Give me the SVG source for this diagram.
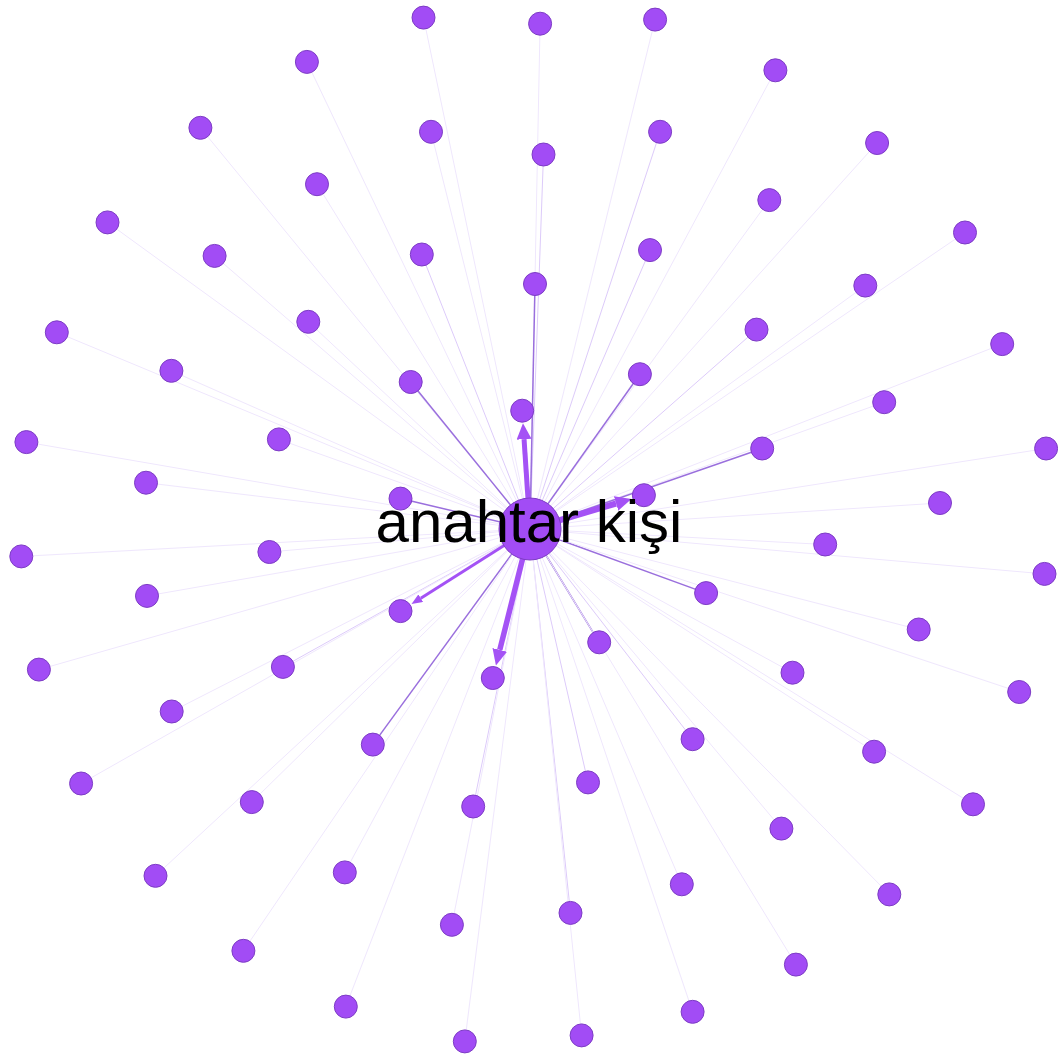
<svg xmlns="http://www.w3.org/2000/svg" width="1058" height="1059" viewBox="0 0 1058 1059">
<style>
.f{stroke:#efe7fd;stroke-width:1;fill:none}
.l{stroke:#ddcbfa;stroke-width:1;fill:none}
.m{stroke:#9a6fdd;stroke-width:1.5;fill:none}
.a{stroke:#a452f5;fill:none;stroke-linecap:butt}
.n{fill:#a24cf5;stroke:#7d3dc4;stroke-width:1}
.t{font-family:"Liberation Sans",Arial,sans-serif;font-size:60px;fill:#000}
</style>
<defs>
<marker id="ah" markerUnits="userSpaceOnUse" markerWidth="16" markerHeight="15" refX="0" refY="7.5" orient="auto"><path d="M0,0 L16,7.5 L0,15 z" fill="#a452f5"/></marker>
<marker id="as" markerUnits="userSpaceOnUse" markerWidth="11" markerHeight="9" refX="0" refY="4.5" orient="auto"><path d="M0,0 L11,4.5 L0,9 z" fill="#a452f5"/></marker>
</defs>
<rect width="1058" height="1059" fill="#fff"/>
<g id="connectors">
<line class="f" x1="530" y1="529" x2="423.5" y2="17.6"/>
<line class="f" x1="530" y1="529" x2="306.9" y2="61.9"/>
<line class="f" x1="530" y1="529" x2="431" y2="131.8"/>
<line class="f" x1="530" y1="529" x2="200.4" y2="127.8"/>
<line class="f" x1="530" y1="529" x2="317" y2="184.2"/>
<line class="f" x1="530" y1="529" x2="107.5" y2="222.4"/>
<line class="f" x1="530" y1="529" x2="214.6" y2="255.9"/>
<line class="l" x1="530" y1="529" x2="421.8" y2="254.5"/>
<line class="f" x1="530" y1="529" x2="308.3" y2="321.8"/>
<line class="f" x1="530" y1="529" x2="56.8" y2="332.3"/>
<line class="f" x1="530" y1="529" x2="171.4" y2="370.8"/>
<line class="m" x1="530" y1="529" x2="410.7" y2="382"/>
<line class="f" x1="530" y1="529" x2="26.4" y2="442.1"/>
<line class="f" x1="530" y1="529" x2="278.9" y2="439.4"/>
<line class="f" x1="530" y1="529" x2="146" y2="482.7"/>
<line class="m" x1="530" y1="529" x2="400.5" y2="498.6"/>
<line class="f" x1="530" y1="529" x2="540.1" y2="23.7"/>
<line class="f" x1="530" y1="529" x2="655.1" y2="19.6"/>
<line class="f" x1="530" y1="529" x2="775.4" y2="70.3"/>
<line class="l" x1="530" y1="529" x2="660.1" y2="131.8"/>
<line class="l" x1="530" y1="529" x2="543.5" y2="154.5"/>
<line class="f" x1="530" y1="529" x2="877.1" y2="143"/>
<line class="f" x1="530" y1="529" x2="769.3" y2="200.1"/>
<line class="l" x1="530" y1="529" x2="650" y2="250.1"/>
<line class="f" x1="530" y1="529" x2="965" y2="232.5"/>
<line class="f" x1="530" y1="529" x2="865.3" y2="285.6"/>
<line class="m" x1="530" y1="529" x2="535" y2="284"/>
<line class="l" x1="530" y1="529" x2="756.5" y2="329.6"/>
<line class="f" x1="530" y1="529" x2="1002.2" y2="344.1"/>
<line class="m" x1="530" y1="529" x2="639.9" y2="374.2"/>
<line class="f" x1="530" y1="529" x2="884.2" y2="402.2"/>
<line class="m" x1="530" y1="529" x2="762.2" y2="448.5"/>
<line class="f" x1="530" y1="529" x2="1046.1" y2="448.5"/>
<line class="f" x1="530" y1="529" x2="940" y2="503"/>
<line class="f" x1="530" y1="529" x2="21.3" y2="556.4"/>
<line class="f" x1="530" y1="529" x2="269.4" y2="552"/>
<line class="f" x1="530" y1="529" x2="147" y2="595.9"/>
<line class="f" x1="530" y1="529" x2="38.9" y2="669.6"/>
<line class="l" x1="530" y1="529" x2="282.9" y2="666.9"/>
<line class="f" x1="530" y1="529" x2="171.7" y2="711.5"/>
<line class="m" x1="530" y1="529" x2="372.8" y2="744.6"/>
<line class="f" x1="530" y1="529" x2="81.1" y2="783.5"/>
<line class="f" x1="530" y1="529" x2="251.8" y2="802.1"/>
<line class="l" x1="530" y1="529" x2="473.2" y2="806.5"/>
<line class="f" x1="530" y1="529" x2="155.5" y2="875.8"/>
<line class="f" x1="530" y1="529" x2="344.8" y2="872.4"/>
<line class="f" x1="530" y1="529" x2="451.9" y2="924.8"/>
<line class="f" x1="530" y1="529" x2="243.4" y2="950.8"/>
<line class="f" x1="530" y1="529" x2="345.8" y2="1006.6"/>
<line class="f" x1="530" y1="529" x2="464.8" y2="1041.4"/>
<line class="f" x1="530" y1="529" x2="825.2" y2="544.5"/>
<line class="f" x1="530" y1="529" x2="1044.5" y2="573.9"/>
<line class="m" x1="530" y1="529" x2="706.1" y2="593.1"/>
<line class="f" x1="530" y1="529" x2="918.7" y2="629.5"/>
<line class="m" x1="530" y1="529" x2="599.2" y2="642.3"/>
<line class="f" x1="530" y1="529" x2="792.5" y2="672.7"/>
<line class="f" x1="530" y1="529" x2="1019.2" y2="692"/>
<line class="l" x1="530" y1="529" x2="692.6" y2="739.2"/>
<line class="f" x1="530" y1="529" x2="874.1" y2="751.7"/>
<line class="l" x1="530" y1="529" x2="588" y2="782.4"/>
<line class="f" x1="530" y1="529" x2="973" y2="804.3"/>
<line class="f" x1="530" y1="529" x2="781.4" y2="828.6"/>
<line class="f" x1="530" y1="529" x2="681.8" y2="884.3"/>
<line class="f" x1="530" y1="529" x2="889.3" y2="894.4"/>
<line class="l" x1="530" y1="529" x2="570.5" y2="912.9"/>
<line class="f" x1="530" y1="529" x2="795.9" y2="964.6"/>
<line class="f" x1="530" y1="529" x2="692.6" y2="1011.8"/>
<line class="f" x1="530" y1="529" x2="581.6" y2="1035.4"/>
<line class="a" stroke-width="5" x1="530" y1="529" x2="524.05" y2="439.2" marker-end="url(#ah)"/>
<line class="a" stroke-width="6" x1="530" y1="529" x2="616.1" y2="503.5" marker-end="url(#ah)"/>
<line class="a" stroke-width="5.5" x1="530" y1="529" x2="499.8" y2="649.9" marker-end="url(#ah)"/>
<line class="a" stroke-width="3" x1="530" y1="529" x2="420.8" y2="598.2" marker-end="url(#as)"/>
</g>
<g id="nodes">
<circle id="n1" class="n" cx="423.5" cy="17.6" r="11.5"/>
<circle id="n2" class="n" cx="306.9" cy="61.9" r="11.5"/>
<circle id="n3" class="n" cx="431" cy="131.8" r="11.5"/>
<circle id="n4" class="n" cx="200.4" cy="127.8" r="11.5"/>
<circle id="n5" class="n" cx="317" cy="184.2" r="11.5"/>
<circle id="n6" class="n" cx="107.5" cy="222.4" r="11.5"/>
<circle id="n7" class="n" cx="214.6" cy="255.9" r="11.5"/>
<circle id="n8" class="n" cx="421.8" cy="254.5" r="11.5"/>
<circle id="n9" class="n" cx="308.3" cy="321.8" r="11.5"/>
<circle id="n10" class="n" cx="56.8" cy="332.3" r="11.5"/>
<circle id="n11" class="n" cx="171.4" cy="370.8" r="11.5"/>
<circle id="n12" class="n" cx="410.7" cy="382" r="11.5"/>
<circle id="n13" class="n" cx="522.2" cy="410.7" r="11.5"/>
<circle id="n14" class="n" cx="26.4" cy="442.1" r="11.5"/>
<circle id="n15" class="n" cx="278.9" cy="439.4" r="11.5"/>
<circle id="n16" class="n" cx="146" cy="482.7" r="11.5"/>
<circle id="n17" class="n" cx="400.5" cy="498.6" r="11.5"/>
<circle id="n18" class="n" cx="540.1" cy="23.7" r="11.5"/>
<circle id="n19" class="n" cx="655.1" cy="19.6" r="11.5"/>
<circle id="n20" class="n" cx="775.4" cy="70.3" r="11.5"/>
<circle id="n21" class="n" cx="660.1" cy="131.8" r="11.5"/>
<circle id="n22" class="n" cx="543.5" cy="154.5" r="11.5"/>
<circle id="n23" class="n" cx="877.1" cy="143" r="11.5"/>
<circle id="n24" class="n" cx="769.3" cy="200.1" r="11.5"/>
<circle id="n25" class="n" cx="650" cy="250.1" r="11.5"/>
<circle id="n26" class="n" cx="965" cy="232.5" r="11.5"/>
<circle id="n27" class="n" cx="865.3" cy="285.6" r="11.5"/>
<circle id="n28" class="n" cx="535" cy="284" r="11.5"/>
<circle id="n29" class="n" cx="756.5" cy="329.6" r="11.5"/>
<circle id="n30" class="n" cx="1002.2" cy="344.1" r="11.5"/>
<circle id="n31" class="n" cx="639.9" cy="374.2" r="11.5"/>
<circle id="n32" class="n" cx="884.2" cy="402.2" r="11.5"/>
<circle id="n33" class="n" cx="762.2" cy="448.5" r="11.5"/>
<circle id="n34" class="n" cx="1046.1" cy="448.5" r="11.5"/>
<circle id="n35" class="n" cx="643.9" cy="495.2" r="11.5"/>
<circle id="n36" class="n" cx="940" cy="503" r="11.5"/>
<circle id="n37" class="n" cx="21.3" cy="556.4" r="11.5"/>
<circle id="n38" class="n" cx="269.4" cy="552" r="11.5"/>
<circle id="n39" class="n" cx="147" cy="595.9" r="11.5"/>
<circle id="n40" class="n" cx="400.5" cy="611.1" r="11.5"/>
<circle id="n41" class="n" cx="38.9" cy="669.6" r="11.5"/>
<circle id="n42" class="n" cx="282.9" cy="666.9" r="11.5"/>
<circle id="n43" class="n" cx="171.7" cy="711.5" r="11.5"/>
<circle id="n44" class="n" cx="492.8" cy="678" r="11.5"/>
<circle id="n45" class="n" cx="372.8" cy="744.6" r="11.5"/>
<circle id="n46" class="n" cx="81.1" cy="783.5" r="11.5"/>
<circle id="n47" class="n" cx="251.8" cy="802.1" r="11.5"/>
<circle id="n48" class="n" cx="473.2" cy="806.5" r="11.5"/>
<circle id="n49" class="n" cx="155.5" cy="875.8" r="11.5"/>
<circle id="n50" class="n" cx="344.8" cy="872.4" r="11.5"/>
<circle id="n51" class="n" cx="451.9" cy="924.8" r="11.5"/>
<circle id="n52" class="n" cx="243.4" cy="950.8" r="11.5"/>
<circle id="n53" class="n" cx="345.8" cy="1006.6" r="11.5"/>
<circle id="n54" class="n" cx="464.8" cy="1041.4" r="11.5"/>
<circle id="n55" class="n" cx="825.2" cy="544.5" r="11.5"/>
<circle id="n56" class="n" cx="1044.5" cy="573.9" r="11.5"/>
<circle id="n57" class="n" cx="706.1" cy="593.1" r="11.5"/>
<circle id="n58" class="n" cx="918.7" cy="629.5" r="11.5"/>
<circle id="n59" class="n" cx="599.2" cy="642.3" r="11.5"/>
<circle id="n60" class="n" cx="792.5" cy="672.7" r="11.5"/>
<circle id="n61" class="n" cx="1019.2" cy="692" r="11.5"/>
<circle id="n62" class="n" cx="692.6" cy="739.2" r="11.5"/>
<circle id="n63" class="n" cx="874.1" cy="751.7" r="11.5"/>
<circle id="n64" class="n" cx="588" cy="782.4" r="11.5"/>
<circle id="n65" class="n" cx="973" cy="804.3" r="11.5"/>
<circle id="n66" class="n" cx="781.4" cy="828.6" r="11.5"/>
<circle id="n67" class="n" cx="681.8" cy="884.3" r="11.5"/>
<circle id="n68" class="n" cx="889.3" cy="894.4" r="11.5"/>
<circle id="n69" class="n" cx="570.5" cy="912.9" r="11.5"/>
<circle id="n70" class="n" cx="795.9" cy="964.6" r="11.5"/>
<circle id="n71" class="n" cx="692.6" cy="1011.8" r="11.5"/>
<circle id="n72" class="n" cx="581.6" cy="1035.4" r="11.5"/>
<g id="center">
<circle class="n" cx="530" cy="529" r="31"/>
<text class="t" x="529" y="542" text-anchor="middle">anahtar kişi</text>
</g>
</g>
</svg>
